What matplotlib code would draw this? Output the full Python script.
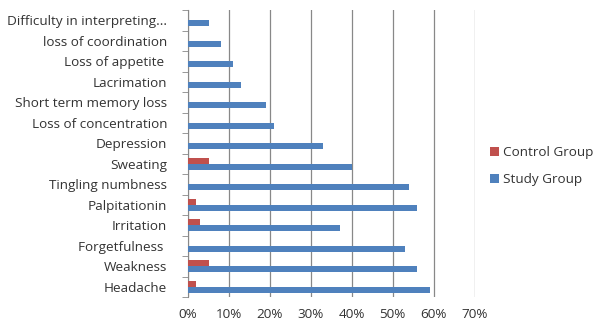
import matplotlib
matplotlib.use("Agg")
import matplotlib.pyplot as plt
import numpy as np
from matplotlib.ticker import FixedLocator, PercentFormatter

categories = ["Headache", "Weakness", "Forgetfulness ", "Irritation", "Palpitationin",
              "Tingling numbness", "Sweating", "Depression", "Loss of concentration",
              "Short term memory loss", "Lacrimation", "Loss of appetite ",
              "loss of coordination", "Difficulty in interpreting..."]
study = [59, 56, 53, 37, 56, 54, 40, 33, 21, 19, 13, 11, 8, 5]
control = [2, 5, 0, 3, 2, 0, 5, 0, 0, 0, 0, 0, 0, 0]

plt.rcParams['font.family'] = ['Open Sans', 'DejaVu Sans']

fig = plt.figure(figsize=(5.97, 3.23), dpi=100)
ax = fig.add_axes([0.315, 0.08, 0.48, 0.889])

y = np.arange(len(categories))
h = 0.29
ax.barh(y - h/2, study, height=h, color="#4F81BD", label="Study Group", zorder=3)
ax.barh(y + h/2, control, height=h, color="#C0504D", label="Control Group", zorder=3)

ax.set_xlim(0, 70)
ax.set_ylim(-0.5, len(categories) - 0.5)
ax.set_xticks(np.arange(0, 71, 10))
ax.xaxis.set_major_formatter(PercentFormatter(decimals=0))
ax.set_yticks(y)
ax.set_yticklabels(categories)
ax.yaxis.set_minor_locator(FixedLocator(np.arange(-0.5, len(categories), 1)))
ax.tick_params(axis='y', which='major', length=0, pad=15, labelsize=9.7, colors="#333333")
ax.tick_params(axis='y', which='minor', length=4, color="#888888", direction='out')
ax.tick_params(axis='x', length=0, labelsize=9.7, colors="#333333", pad=8)
ax.grid(axis='x', color="#888888", linewidth=0.9, zorder=0)
for s in ["top", "right", "bottom"]:
    ax.spines[s].set_visible(False)
ax.spines["left"].set_color("#888888")

handles, labels = ax.get_legend_handles_labels()
fig.legend(handles[::-1], labels[::-1], loc="center left", bbox_to_anchor=(0.8, 0.485),
           frameon=False, fontsize=9.7, handlelength=0.7, handleheight=0.7,
           handletextpad=0.3, labelspacing=1.05, labelcolor="#333333")

fig.savefig("out.png", dpi=100)
